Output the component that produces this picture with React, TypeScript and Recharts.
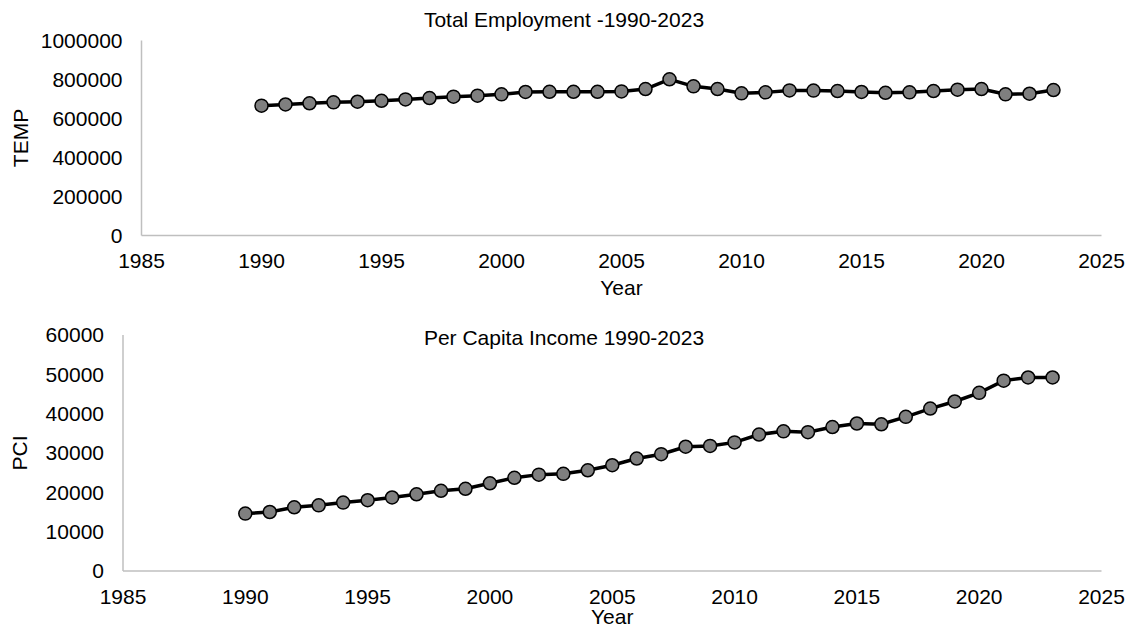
import { LineChart, Line, XAxis, YAxis } from "recharts";

const years = [
  1990, 1991, 1992, 1993, 1994, 1995, 1996, 1997, 1998, 1999, 2000, 2001,
  2002, 2003, 2004, 2005, 2006, 2007, 2008, 2009, 2010, 2011, 2012, 2013,
  2014, 2015, 2016, 2017, 2018, 2019, 2020, 2021, 2022, 2023,
];

// total employment (TEMP)
const tempValues = [
  666000, 672000, 678000, 683000, 686000, 691000, 698000, 705000, 712000,
  717000, 724000, 736000, 737000, 737000, 737000, 739000, 751000, 801000,
  765000, 751000, 729000, 734000, 744000, 743000, 741000, 736000, 732000,
  734000, 741000, 748000, 751000, 724000, 727000, 746000,
];

// per capita income (PCI)
const pciValues = [
  14600, 15000, 16200, 16700, 17400, 18000, 18700, 19500, 20400, 20900,
  22300, 23700, 24500, 24700, 25600, 26900, 28600, 29700, 31600, 31800,
  32700, 34700, 35500, 35300, 36600, 37500, 37300, 39200, 41300, 43100,
  45300, 48400, 49200, 49200,
];

const yearTicks = [1985, 1990, 1995, 2000, 2005, 2010, 2015, 2020, 2025];
const tempTicks = [0, 200000, 400000, 600000, 800000, 1000000];
const pciTicks = [0, 10000, 20000, 30000, 40000, 50000, 60000];

const tempData = years.map((year, i) => ({ year, value: tempValues[i] }));
const pciData = years.map((year, i) => ({ year, value: pciValues[i] }));

const font = "'Liberation Sans', Arial, sans-serif";
const tickStyle = { fill: "#000", fontSize: 21, fontFamily: font };
const axisStroke = { stroke: "#bfbfbf", strokeWidth: 1.5 };
const labelStyle = { fill: "#000", fontSize: 21, fontFamily: font };

function Title({ text, top }: { text: string; top: number }) {
  return (
    <div
      style={{
        position: "absolute",
        left: 0,
        width: 1128,
        top,
        textAlign: "center",
        fontFamily: font,
        fontSize: 21,
        color: "#000",
        lineHeight: "24px",
      }}
    >
      {text}
    </div>
  );
}

function Panel({
  data,
  ticks,
  yLabel,
  yAxisWidth,
  yLabelDx,
  top,
  margin,
  xAxisHeight,
  yearDy,
}: any) {
  return (
    <div style={{ position: "absolute", left: 0, top }}>
      <LineChart width={1131} height={314} data={data} margin={margin}>
        <XAxis
          dataKey="year"
          type="number"
          domain={[1985, 2025]}
          ticks={yearTicks}
          tickLine={false}
          axisLine={axisStroke}
          tick={tickStyle}
          tickMargin={12}
          height={xAxisHeight}
          interval={0}
          label={{ value: "Year", position: "center", dy: yearDy, style: labelStyle }}
        />
        <YAxis
          type="number"
          domain={[ticks[0], ticks[ticks.length - 1]]}
          ticks={ticks}
          tickLine={false}
          axisLine={axisStroke}
          tick={tickStyle}
          tickMargin={13}
          width={yAxisWidth}
          interval={0}
          label={{
            value: yLabel,
            angle: -90,
            position: "center",
            dx: yLabelDx,
            style: labelStyle,
          }}
        />
        <Line
          type="linear"
          dataKey="value"
          stroke="#000"
          strokeWidth={3.5}
          dot={{ r: 6.5, fill: "#7f7f7f", stroke: "#000", strokeWidth: 1.5 }}
          activeDot={false}
          isAnimationActive={false}
        />
      </LineChart>
    </div>
  );
}

export default function App() {
  return (
    <div
      style={{
        position: "absolute",
        left: 0,
        top: 0,
        width: 1131,
        height: 628,
        background: "#fff",
      }}
    >
      <Panel
        data={tempData}
        ticks={tempTicks}
        yLabel="TEMP"
        yAxisWidth={141.5}
        yLabelDx={-50.5}
        top={0}
        margin={{ top: 40.5, right: 29.5, bottom: 28.5, left: 0 }}
        xAxisHeight={50}
        yearDy={27.5}
      />
      <Panel
        data={pciData}
        ticks={pciTicks}
        yLabel="PCI"
        yAxisWidth={123}
        yLabelDx={-41.5}
        top={314}
        margin={{ top: 21, right: 29.5, bottom: 17, left: 0 }}
        xAxisHeight={40}
        yearDy={25.7}
      />
      <Title text="Total Employment -1990-2023" top={8} />
      <Title text="Per Capita Income 1990-2023" top={326} />
    </div>
  );
}
